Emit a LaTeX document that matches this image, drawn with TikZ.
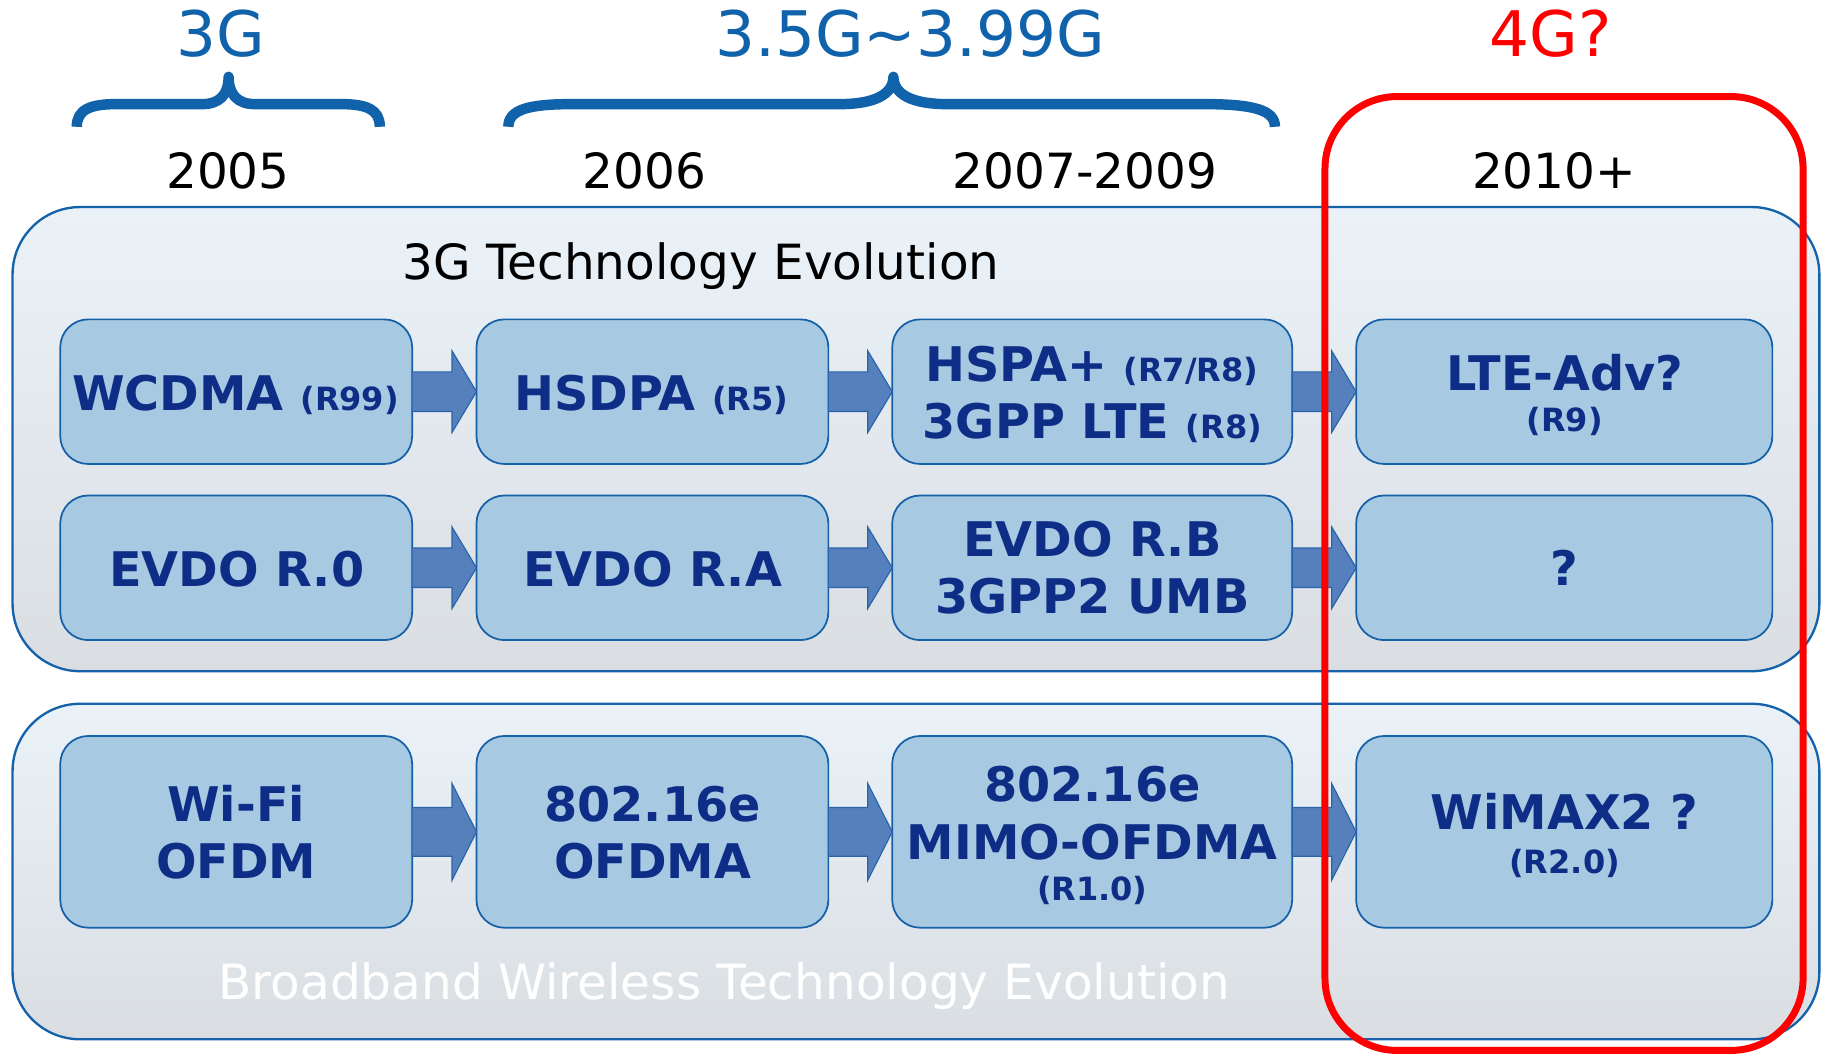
\documentclass[tikz,border=0pt]{standalone}
\usepackage{fontspec}
\setmainfont{DejaVu Sans}
\usetikzlibrary{calc}
\definecolor{hdblue}{RGB}{16,98,170}
\definecolor{pborder}{RGB}{20,98,170}
\definecolor{ptop}{RGB}{234,242,248}
\definecolor{pbot}{RGB}{218,222,227}
\definecolor{bfill}{RGB}{167,201,226}
\definecolor{bborder}{RGB}{22,96,168}
\definecolor{tnavy}{RGB}{14,45,134}
\definecolor{afill}{RGB}{85,128,188}
\definecolor{aborder}{RGB}{40,100,170}
\definecolor{redbox}{RGB}{255,0,0}
\newcommand\smr{\fontsize{27.5}{32}\selectfont}
\newcommand\blockarrow[4]{%
  \path[blk] ([yshift=#3pt]#1.east) -- ([xshift=-21pt,yshift=#3pt]#2.west)
    -- ([xshift=-21pt,yshift=#4pt]#2.west) -- (#2.west)
    -- ([xshift=-21pt,yshift=-#4pt]#2.west) -- ([xshift=-21pt,yshift=-#3pt]#2.west)
    -- ([yshift=-#3pt]#1.east) -- cycle;}
\begin{document}
\begin{tikzpicture}[x=1pt,y=-1pt,
  panel/.style={draw=pborder, line width=2pt, rounded corners=58pt, top color=ptop, bottom color=pbot,
    minimum width=1553.2pt, inner sep=0pt, outer sep=0pt},
  tbox/.style={draw=bborder, line width=1.5pt, fill=bfill, rounded corners=24pt, inner sep=0pt, outer sep=0pt},
  colA/.style={minimum width=302.5pt},
  colC/.style={minimum width=343.8pt},
  colD/.style={minimum width=357.8pt},
  rowA/.style={minimum height=124.3pt},
  rowC/.style={minimum height=164.8pt},
  blk/.style={fill=afill, draw=aborder, line width=1pt},
  lbl/.style={anchor=base, text=tnavy, font=\bfseries\fontsize{41}{49}\selectfont, inner sep=0pt},
  slbl/.style={anchor=base, text=tnavy, font=\bfseries\fontsize{27.5}{32}\selectfont, inner sep=0pt},
  era/.style={anchor=base, text=hdblue, font=\fontsize{54}{60}\selectfont, inner sep=0pt},
  yr/.style={anchor=base, text=black, font=\fontsize{41.7}{48}\selectfont, inner sep=0pt},
  brace/.style={draw=hdblue, line width=9pt, line join=round},
  redframe/.style={draw=redbox, line width=6pt, rounded corners=62pt, inner sep=0pt, outer sep=0pt}]
\useasboundingbox (0,0) rectangle (1568,909.6);

% era labels and braces
\node[era] (e1) at (190,49) {3G};
\node[era] (e2) at (782.5,49) {3.5G\symbol{126}3.99G};
\node[era, text=redbox] (e3) at (1333,49) {4G?};
\draw[brace] (66,109) .. controls (66,94) and (78,89.5) .. (100,89.5) -- (174,89.5)
  .. controls (189,89.5) and (196.5,81) .. (196.5,66)
  .. controls (196.5,81) and (204,89.5) .. (219,89.5) -- (293,89.5)
  .. controls (315,89.5) and (326.5,94) .. (326.5,109);
\draw[brace] (437,109) .. controls (437,94) and (455,89.5) .. (492,89.5) -- (722,89.5)
  .. controls (752,89.5) and (768,81) .. (768,66)
  .. controls (768,81) and (784,89.5) .. (814,89.5) -- (1034,89.5)
  .. controls (1076,89.5) and (1096,94) .. (1096,109);

% years
\node[yr] (y1) at (196,161.7) {2005};
\node[yr] (y2) at (554,161.7) {2006};
\node[yr] (y3) at (932.7,161.7) {2007-2009};
\node[yr] (y4) at (1336,161.7) {2010+};

% panels
\node[panel, minimum height=399pt] (p1) at (787.4,377.5) {};
\node[panel, minimum height=288.4pt] (p2) at (787.4,749.2) {};
\node[yr] (pt1) at (602.6,240.7) {3G Technology Evolution};
\node[yr, text=white] (pt2) at (622.6,859.6) {Broadband Wireless Technology Evolution};

% boxes row 1
\node[tbox, colA, rowA] (b11) at (203.05,336.7) {};
\node[tbox, colA, rowA] (b12) at (560.85,336.7) {};
\node[tbox, colC, rowA] (b13) at (938.9,336.7) {};
\node[tbox, colD, rowA] (b14) at (1344.7,336.7) {};
% boxes row 2
\node[tbox, colA, rowA] (b21) at (203.05,488.1) {};
\node[tbox, colA, rowA] (b22) at (560.85,488.1) {};
\node[tbox, colC, rowA] (b23) at (938.9,488.1) {};
\node[tbox, colD, rowA] (b24) at (1344.7,488.1) {};
% boxes row 3
\node[tbox, colA, rowC] (b31) at (203.05,715.1) {};
\node[tbox, colA, rowC] (b32) at (560.85,715.1) {};
\node[tbox, colC, rowC] (b33) at (938.9,715.1) {};
\node[tbox, colD, rowC] (b34) at (1344.7,715.1) {};

% arrows
\blockarrow{b11}{b12}{17}{35}
\blockarrow{b12}{b13}{17}{35}
\blockarrow{b13}{b14}{17}{35}
\blockarrow{b21}{b22}{17}{35}
\blockarrow{b22}{b23}{17}{35}
\blockarrow{b23}{b24}{17}{35}
\blockarrow{b31}{b32}{21}{41.5}
\blockarrow{b32}{b33}{21}{41.5}
\blockarrow{b33}{b34}{21}{41.5}

% labels row 1
\node[lbl] (l11) at (202.5,353) {WCDMA {\smr(R99)}};
\node[lbl] (l12) at (560,353) {HSDPA {\smr(R5)}};
\node[lbl] (l13a) at (938.5,328) {HSPA+ {\smr(R7/R8)}};
\node[lbl] (l13b) at (939,376.8) {3GPP LTE {\smr(R8)}};
\node[lbl] (l14a) at (1345,335.8) {LTE-Adv?};
\node[slbl] (l14b) at (1345,371) {(R9)};
% labels row 2
\node[lbl] (l21) at (203.5,504.3) {EVDO R.0};
\node[lbl] (l22) at (561,504.3) {EVDO R.A};
\node[lbl] (l23a) at (939,478.5) {EVDO R.B};
\node[lbl] (l23b) at (939,527.8) {3GPP2 UMB};
\node[lbl] (l24) at (1345,503.7) {?};
% labels row 3
\node[lbl] (l31a) at (203,706.3) {Wi-Fi};
\node[lbl] (l31b) at (203,755) {OFDM};
\node[lbl] (l32a) at (561,706.3) {802.16e};
\node[lbl] (l32b) at (561,755) {OFDMA};
\node[lbl] (l33a) at (939,689) {802.16e};
\node[lbl] (l33b) at (939,738.7) {MIMO-OFDMA};
\node[slbl] (l33c) at (939,774.3) {(R1.0)};
\node[lbl] (l34a) at (1345,713.5) {WiMAX2 ?};
\node[slbl] (l34b) at (1345,750.7) {(R2.0)};

% red frame
\node[redframe, minimum width=411pt, minimum height=820pt] (rf) at (1344.5,493) {};
\end{tikzpicture}
\end{document}
